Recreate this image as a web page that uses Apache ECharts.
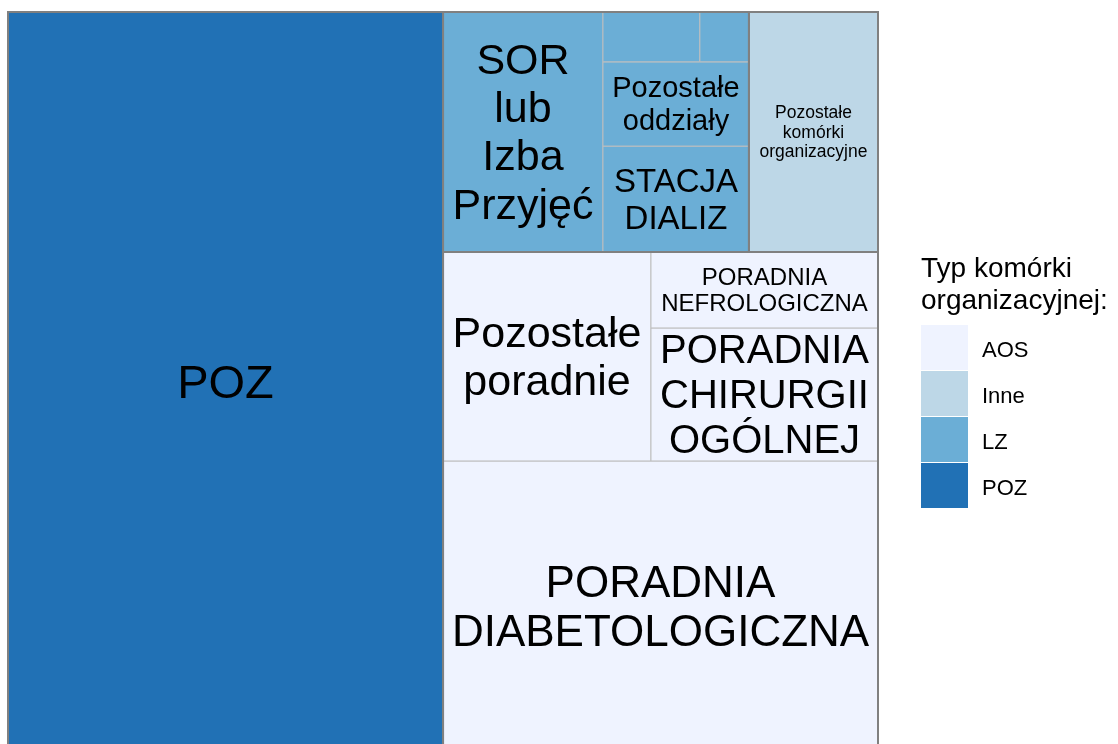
<!DOCTYPE html>
<html>
<head>
<meta charset="UTF-8">
<title>Typ komórki organizacyjnej</title>
<script src="https://cdn.jsdelivr.net/npm/echarts@6/dist/echarts.min.js"></script>
<style>
  body { margin: 0; background: #fff; }
  #chart { width: 1118px; height: 744px; }
</style>
</head>
<body>
<div id="chart"></div>
<script>
// groups (legend order)
var groups = ['AOS', 'Inne', 'LZ', 'POZ'];

// leaf cells
var units = [
  'POZ',
  'PORADNIA DIABETOLOGICZNA',
  'Pozostałe poradnie',
  'PORADNIA CHIRURGII OGÓLNEJ',
  'PORADNIA NEFROLOGICZNA',
  'SOR lub Izba Przyjęć',
  'STACJA DIALIZ',
  'Pozostałe oddziały',
  'ODDZIAŁ NEFROLOGICZNY',
  'ODDZIAŁ CHORÓB WEWNĘTRZNYCH',
  'Pozostałe komórki organizacyjne'
];
var unitGroup = ['POZ', 'AOS', 'AOS', 'AOS', 'AOS', 'LZ', 'LZ', 'LZ', 'LZ', 'LZ', 'Inne'];
var unitValue = [5000, 1966, 675, 469, 268, 596, 240, 191, 75, 38, 481];

// look
var groupColor = { AOS: '#eff3ff', Inne: '#bdd7e7', LZ: '#6baed6', POZ: '#2171b5' };
var labelText = {
  'POZ': 'POZ',
  'PORADNIA DIABETOLOGICZNA': 'PORADNIA\nDIABETOLOGICZNA',
  'Pozostałe poradnie': 'Pozostałe\nporadnie',
  'PORADNIA CHIRURGII OGÓLNEJ': 'PORADNIA\nCHIRURGII\nOGÓLNEJ',
  'PORADNIA NEFROLOGICZNA': 'PORADNIA\nNEFROLOGICZNA',
  'SOR lub Izba Przyjęć': 'SOR\nlub\nIzba\nPrzyjęć',
  'STACJA DIALIZ': 'STACJA\nDIALIZ',
  'Pozostałe oddziały': 'Pozostałe\noddziały',
  'Pozostałe komórki organizacyjne': 'Pozostałe\nkomórki\norganizacyjne'
};
var labelSize = {
  'POZ': 47,
  'PORADNIA DIABETOLOGICZNA': 44,
  'Pozostałe poradnie': 43,
  'PORADNIA CHIRURGII OGÓLNEJ': 40,
  'PORADNIA NEFROLOGICZNA': 24,
  'SOR lub Izba Przyjęć': 43,
  'STACJA DIALIZ': 33,
  'Pozostałe oddziały': 29,
  'Pozostałe komórki organizacyjne': 17.5
};
var FONT = '"Liberation Sans", Arial, sans-serif';

// the plot panel runs a few px past the bottom of the picture
var panelH = 732, panelOverflow = 8;

// squarified layout in the unit square, origin bottom-left
function worst(areas, side) {
  var s = 0, mx = 0, mn = Infinity;
  areas.forEach(function (a) { s += a; mx = Math.max(mx, a); mn = Math.min(mn, a); });
  var s2 = side * side;
  return Math.max(s2 * mx / (s * s), (s * s) / (s2 * mn));
}

function squarify(items, rect) {
  var total = 0;
  items.forEach(function (it) { total += it.value; });
  var scale = rect.w * rect.h / total;
  var rest = items.slice().sort(function (a, b) { return b.value - a.value; })
    .map(function (it) { return { item: it, area: it.value * scale }; });
  var r = { x: rect.x, y: rect.y, w: rect.w, h: rect.h };
  var out = [];
  while (rest.length) {
    var vertical = r.w >= r.h;
    var side = vertical ? r.h : r.w;
    var row = [rest[0].area];
    var best = worst(row, side);
    var n = 1;
    while (n < rest.length) {
      var trial = row.concat([rest[n].area]);
      var w = worst(trial, side);
      if (w > best) break;
      row = trial; best = w; n++;
    }
    var rowArea = row.reduce(function (a, b) { return a + b; }, 0);
    var thick = rowArea / side;
    var pos = vertical ? r.y : r.x;
    for (var i = 0; i < n; i++) {
      var len = rest[i].area / thick;
      var box = vertical
        ? { x: r.x, y: pos, w: thick, h: len }
        : { x: pos, y: r.y, w: len, h: thick };
      out.push({ item: rest[i].item, rect: box });
      pos += len;
    }
    if (vertical) { r.x += thick; r.w -= thick; } else { r.y += thick; r.h -= thick; }
    rest = rest.slice(n);
  }
  return out;
}

// build hierarchy
var groupItems = groups.map(function (g) {
  var kids = [];
  var sum = 0;
  for (var i = 0; i < units.length; i++) {
    if (unitGroup[i] === g) {
      kids.push({ name: units[i], value: unitValue[i] });
      sum += unitValue[i];
    }
  }
  return { name: g, value: sum, children: kids };
});

var groupRects = squarify(groupItems, { x: 0, y: 0, w: 1, h: 1 });
var leafData = {};
var outlineData = [];
groupRects.forEach(function (gr) {
  var rc = gr.rect;
  outlineData.push({ name: gr.item.name, value: [rc.x, rc.y, rc.x + rc.w, rc.y + rc.h] });
  leafData[gr.item.name] = squarify(gr.item.children, rc).map(function (lf) {
    var b = lf.rect;
    return { name: lf.item.name, value: [b.x, b.y, b.x + b.w, b.y + b.h, lf.item.value] };
  });
});

function leafDataName(params) {
  return leafData[params.seriesName][params.dataIndex].name;
}

function cellRender(color) {
  return function (params, api) {
    var p0 = api.coord([api.value(0), api.value(1)]);
    var p1 = api.coord([api.value(2), api.value(3)]);
    var x = p0[0], y = p1[1], w = p1[0] - p0[0], h = p0[1] - p1[1];
    var name = leafDataName(params);
    var children = [{
      type: 'rect',
      shape: { x: x, y: y, width: w, height: h },
      style: { fill: color, stroke: '#bebebe', lineWidth: 1 }
    }];
    if (labelText[name]) {
      var fs = labelSize[name];
      children.push({
        type: 'text',
        style: {
          text: labelText[name],
          x: x + w / 2,
          y: y + h / 2 + fs * 0.06,
          align: 'center', verticalAlign: 'middle',
          textAlign: 'center', textVerticalAlign: 'middle',
          fontSize: fs, lineHeight: fs * 1.12,
          fontFamily: FONT, fill: '#000'
        }
      });
    }
    return { type: 'group', children: children };
  };
}

var series = groups.map(function (g) {
  return {
    name: g,
    type: 'custom',
    coordinateSystem: 'cartesian2d',
    itemStyle: { color: groupColor[g], borderWidth: 0 },
    encode: { x: [0, 2], y: [1, 3] },
    data: leafData[g],
    renderItem: cellRender(groupColor[g]),
    silent: true,
    z: 2
  };
});

series.push({
  name: 'outline',
  type: 'custom',
  coordinateSystem: 'cartesian2d',
  encode: { x: [0, 2], y: [1, 3] },
  data: outlineData,
  silent: true,
  z: 3,
  renderItem: function (params, api) {
    var p0 = api.coord([api.value(0), api.value(1)]);
    var p1 = api.coord([api.value(2), api.value(3)]);
    return {
      type: 'rect',
      shape: { x: p0[0], y: p1[1], width: p1[0] - p0[0], height: p0[1] - p1[1] },
      style: { fill: null, stroke: '#808080', lineWidth: 2 }
    };
  }
});

var chart = echarts.init(document.getElementById('chart'));
chart.setOption({
  animation: false,
  grid: { left: 8, top: 12, width: 870, height: panelH },
  xAxis: { type: 'value', min: 0, max: 1, show: false },
  yAxis: { type: 'value', min: panelOverflow / (panelH + panelOverflow), max: 1, show: false },
  title: {
    text: 'Typ komórki\norganizacyjnej:',
    left: 916,
    top: 248,
    textStyle: { fontFamily: FONT, fontSize: 28, fontWeight: 'normal', color: '#000', lineHeight: 32 }
  },
  legend: {
    data: groups,
    orient: 'vertical',
    left: 921,
    top: 325,
    padding: 0,
    icon: 'rect',
    itemWidth: 47,
    itemHeight: 45,
    itemGap: 1,
    selectedMode: false,
    formatter: '{t|{name}}',
    textStyle: {
      fontFamily: FONT, fontSize: 22, color: '#000',
      rich: { t: { fontFamily: FONT, fontSize: 22, color: '#000', padding: [7, 0, 0, 9] } }
    }
  },
  series: series
});
</script>
</body>
</html>
